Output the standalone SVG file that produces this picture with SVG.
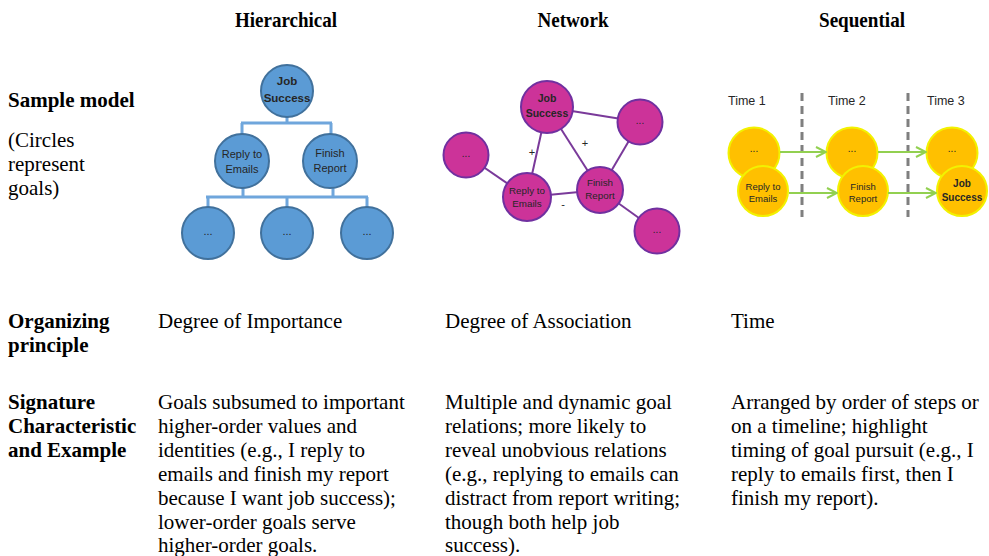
<svg xmlns="http://www.w3.org/2000/svg" width="989" height="556" viewBox="0 0 989 556">
  <style>
    .head { font-family: "Liberation Serif", "Times New Roman", serif; font-size: 21px; font-weight: bold; fill: #000; text-anchor: middle; }
    .lab { font-family: "Liberation Serif", "Times New Roman", serif; font-size: 21px; font-weight: bold; fill: #000; }
    .body { font-family: "Liberation Serif", "Times New Roman", serif; font-size: 21px; fill: #000; }
    .ct { font-family: "Liberation Sans", Arial, sans-serif; fill: #262626; text-anchor: middle; }
    .blue { fill: #5b9bd5; stroke: #41719c; stroke-width: 2; }
    .mag { fill: #cc3399; stroke: #7030a0; stroke-width: 2; }
    .gold { fill: #ffc000; stroke: #f2f200; stroke-width: 2; }
    .hline { stroke: #6fa6dc; stroke-width: 3; fill: none; }
    .nline { stroke: #7a3a9a; stroke-width: 2; fill: none; }
    .arr { stroke: #92d050; stroke-width: 2; fill: none; marker-end: url(#chev); }
    .dash { stroke: #7f7f7f; stroke-width: 3; stroke-dasharray: 8 5; fill: none; }
  </style>
  <defs>
    <marker id="chev" viewBox="0 0 12 12" refX="11" refY="6" markerWidth="12" markerHeight="12" markerUnits="userSpaceOnUse" orient="auto">
      <path d="M1,1 L11,6 L1,11" fill="none" stroke="#92d050" stroke-width="2"/>
    </marker>
  </defs>
  <rect width="989" height="556" fill="#fff"/>

  <!-- column headers -->
  <text class="head" x="286" y="27" textLength="102" lengthAdjust="spacingAndGlyphs">Hierarchical</text>
  <text class="head" x="573" y="27" textLength="71" lengthAdjust="spacingAndGlyphs">Network</text>
  <text class="head" x="862" y="27" textLength="86" lengthAdjust="spacingAndGlyphs">Sequential</text>

  <!-- row labels -->
  <text class="lab" x="8" y="107">Sample model</text>
  <text class="body" x="8" y="147">(Circles</text>
  <text class="body" x="8" y="171">represent</text>
  <text class="body" x="8" y="195">goals)</text>

  <text class="lab" x="8" y="328">Organizing</text>
  <text class="lab" x="8" y="352">principle</text>
  <text class="body" x="158" y="328">Degree of Importance</text>
  <text class="body" x="445" y="328">Degree of Association</text>
  <text class="body" x="731" y="328">Time</text>

  <text class="lab" x="8" y="409">Signature</text>
  <text class="lab" x="8" y="433">Characteristic</text>
  <text class="lab" x="8" y="457">and Example</text>

  <text class="body" x="158" y="409">Goals subsumed to important</text>
  <text class="body" x="158" y="433">higher-order values and</text>
  <text class="body" x="158" y="457">identities (e.g., I reply to</text>
  <text class="body" x="158" y="481">emails and finish my report</text>
  <text class="body" x="158" y="505">because I want job success);</text>
  <text class="body" x="158" y="529">lower-order goals serve</text>
  <text class="body" x="158" y="552">higher-order goals.</text>

  <text class="body" x="445" y="409">Multiple and dynamic goal</text>
  <text class="body" x="445" y="433">relations; more likely to</text>
  <text class="body" x="445" y="457">reveal unobvious relations</text>
  <text class="body" x="445" y="481">(e.g., replying to emails can</text>
  <text class="body" x="445" y="505">distract from report writing;</text>
  <text class="body" x="445" y="529">though both help job</text>
  <text class="body" x="445" y="552">success).</text>

  <text class="body" x="731" y="409">Arranged by order of steps or</text>
  <text class="body" x="731" y="433">on a timeline; highlight</text>
  <text class="body" x="731" y="457">timing of goal pursuit (e.g., I</text>
  <text class="body" x="731" y="481">reply to emails first, then I</text>
  <text class="body" x="731" y="505">finish my report).</text>

  <!-- connectors -->
  <g id="connectors">
    <!-- hierarchical tree -->
    <path class="hline" d="M287,116 V123 M241,123 H332 M242,123 V135 M331,123 V135"/>
    <path class="hline" d="M243,188 V197 M333,188 V197 M206,197 H368 M208,197 V207 M287,197 V207 M367,197 V207"/>
    <!-- network links -->
    <line class="nline" x1="547" y1="107" x2="527" y2="197"/>
    <line class="nline" x1="547" y1="107" x2="600" y2="190"/>
    <line class="nline" x1="547" y1="107" x2="640" y2="122"/>
    <line class="nline" x1="640" y1="122" x2="600" y2="190"/>
    <line class="nline" x1="466" y1="155" x2="527" y2="197"/>
    <line class="nline" x1="527" y1="197" x2="600" y2="190"/>
    <line class="nline" x1="600" y1="190" x2="657" y2="231"/>
    <!-- timeline separators -->
    <line class="dash" x1="802" y1="93" x2="802" y2="217"/>
    <line class="dash" x1="908" y1="93" x2="908" y2="217"/>
  </g>

  <!-- hierarchical model -->
  <g id="h-job">
    <circle class="blue" cx="287" cy="91" r="26"/>
    <text class="ct" x="287" y="85" font-size="11.5" font-weight="bold">Job</text>
    <text class="ct" x="287" y="102" font-size="11.5" font-weight="bold">Success</text>
  </g>
  <g id="h-reply">
    <circle class="blue" cx="242" cy="161" r="27"/>
    <text class="ct" x="242" y="158" font-size="11">Reply to</text>
    <text class="ct" x="242" y="173" font-size="11">Emails</text>
  </g>
  <g id="h-finish">
    <circle class="blue" cx="330" cy="161" r="27"/>
    <text class="ct" x="330" y="157" font-size="11">Finish</text>
    <text class="ct" x="330" y="172" font-size="11">Report</text>
  </g>
  <g id="h-sub1">
    <circle class="blue" cx="208" cy="233" r="26"/>
    <text class="ct" x="208" y="235" font-size="11">...</text>
  </g>
  <g id="h-sub2">
    <circle class="blue" cx="287" cy="233" r="26"/>
    <text class="ct" x="287" y="235" font-size="11">...</text>
  </g>
  <g id="h-sub3">
    <circle class="blue" cx="367" cy="233" r="26"/>
    <text class="ct" x="367" y="235" font-size="11">...</text>
  </g>

  <!-- network model -->
  <g id="n-signs" class="ct" font-size="11">
    <text x="532" y="156">+</text>
    <text x="585" y="147">+</text>
    <text x="563" y="208">-</text>
  </g>
  <g id="n-job">
    <circle class="mag" cx="547" cy="107" r="26"/>
    <text class="ct" x="547" y="102" font-size="10.5" font-weight="bold">Job</text>
    <text class="ct" x="547" y="117" font-size="10.5" font-weight="bold">Success</text>
  </g>
  <g id="n-top">
    <circle class="mag" cx="640" cy="122" r="22.5"/>
    <text class="ct" x="640" y="124" font-size="10">...</text>
  </g>
  <g id="n-left">
    <circle class="mag" cx="466" cy="155" r="22.5"/>
    <text class="ct" x="466" y="157" font-size="10">...</text>
  </g>
  <g id="n-reply">
    <circle class="mag" cx="527" cy="197" r="24"/>
    <text class="ct" x="527" y="194" font-size="9.8">Reply to</text>
    <text class="ct" x="527" y="207" font-size="9.8">Emails</text>
  </g>
  <g id="n-finish">
    <circle class="mag" cx="600" cy="190" r="23"/>
    <text class="ct" x="600" y="186" font-size="9.8">Finish</text>
    <text class="ct" x="600" y="199" font-size="9.8">Report</text>
  </g>
  <g id="n-bottom">
    <circle class="mag" cx="657" cy="231" r="22.5"/>
    <text class="ct" x="657" y="233" font-size="10">...</text>
  </g>

  <!-- sequential model -->
  <g id="s-times" class="ct" font-size="12.5">
    <text x="728" y="105" text-anchor="start">Time 1</text>
    <text x="828" y="105" text-anchor="start">Time 2</text>
    <text x="927" y="105" text-anchor="start">Time 3</text>
  </g>
  <g id="s-top1">
    <circle class="gold" cx="754" cy="153" r="25.5"/>
    <text class="ct" x="754" y="152" font-size="10">...</text>
  </g>
  <g id="s-top2">
    <circle class="gold" cx="852" cy="153" r="25.5"/>
    <text class="ct" x="852" y="152" font-size="10">...</text>
  </g>
  <g id="s-top3">
    <circle class="gold" cx="952" cy="153" r="25.5"/>
    <text class="ct" x="952" y="152" font-size="10">...</text>
  </g>
  <g id="s-reply">
    <circle class="gold" cx="763" cy="191" r="25"/>
    <text class="ct" x="763" y="190" font-size="9.5">Reply to</text>
    <text class="ct" x="763" y="202" font-size="9.5">Emails</text>
  </g>
  <g id="s-finish">
    <circle class="gold" cx="863" cy="191" r="25"/>
    <text class="ct" x="863" y="190" font-size="9.5">Finish</text>
    <text class="ct" x="863" y="202" font-size="9.5">Report</text>
  </g>
  <g id="s-job">
    <circle class="gold" cx="962" cy="191" r="25"/>
    <text class="ct" x="962" y="187" font-size="10" font-weight="bold" fill="#000">Job</text>
    <text class="ct" x="962" y="201" font-size="10" font-weight="bold" fill="#000">Success</text>
  </g>
  <g id="s-arrows">
    <line class="arr" x1="780" y1="152" x2="826" y2="152"/>
    <line class="arr" x1="878" y1="152" x2="926" y2="152"/>
    <line class="arr" x1="789" y1="193" x2="837" y2="193"/>
    <line class="arr" x1="888" y1="193" x2="936" y2="193"/>
  </g>
</svg>
